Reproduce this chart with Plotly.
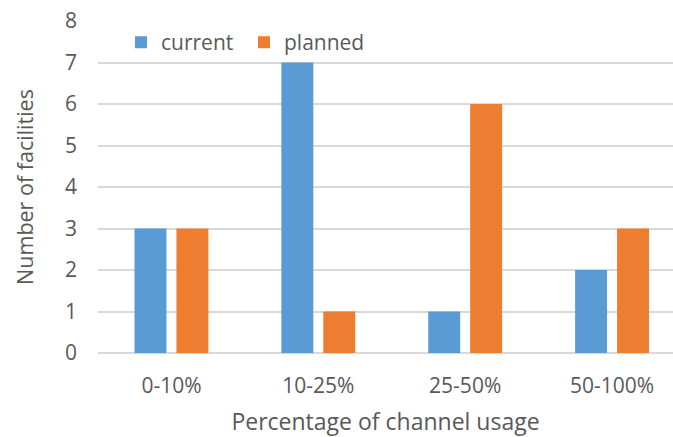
import plotly.graph_objects as go

categories = ["0-10%", "10-25%", "25-50%", "50-100%"]
current = [3, 7, 1, 2]
planned = [3, 1, 6, 3]
y_ticks = [0, 1, 2, 3, 4, 5, 6, 7, 8]

FONT = "Open Sans"
TXT = "#595959"

fig = go.Figure()
fig.add_trace(go.Bar(x=categories, y=current, name="current", marker=dict(color="#5B9BD5", line=dict(width=0))))
fig.add_trace(go.Bar(x=categories, y=planned, name="planned", marker=dict(color="#ED7D31", line=dict(width=0))))

fig.update_layout(
    width=673, height=437,
    margin=dict(l=98, r=0, t=21, b=84),
    paper_bgcolor="white", plot_bgcolor="white",
    font=dict(family=FONT, color=TXT, size=20),
    barmode="group", bargap=0.429, bargroupgap=0.238,
    showlegend=True,
    legend=dict(orientation="h", x=0.04, y=0.935, xanchor="left", yanchor="middle",
                font=dict(size=21, color=TXT), bgcolor="rgba(0,0,0,0)",
                itemsizing="constant", entrywidth=78, traceorder="normal"),
    xaxis=dict(range=[-0.5, 3.415], showgrid=False, showline=False, ticks="",
               tickfont=dict(size=21, color=TXT), ticklabelstandoff=18,
               title=dict(text="Percentage of channel usage", font=dict(size=23, color=TXT), standoff=19)),
    yaxis=dict(range=[0, 8], tickvals=y_ticks, showgrid=True, gridcolor="#D9D9D9", gridwidth=1.5,
               zeroline=True, zerolinecolor="#D9D9D9", zerolinewidth=1.5,
               showline=False, ticks="", ticklabelstandoff=20,
               tickfont=dict(size=21, color=TXT),
               title=dict(text="Number of facilities", font=dict(size=21.5, color=TXT), standoff=25)),
)

fig.write_html("out.html")
